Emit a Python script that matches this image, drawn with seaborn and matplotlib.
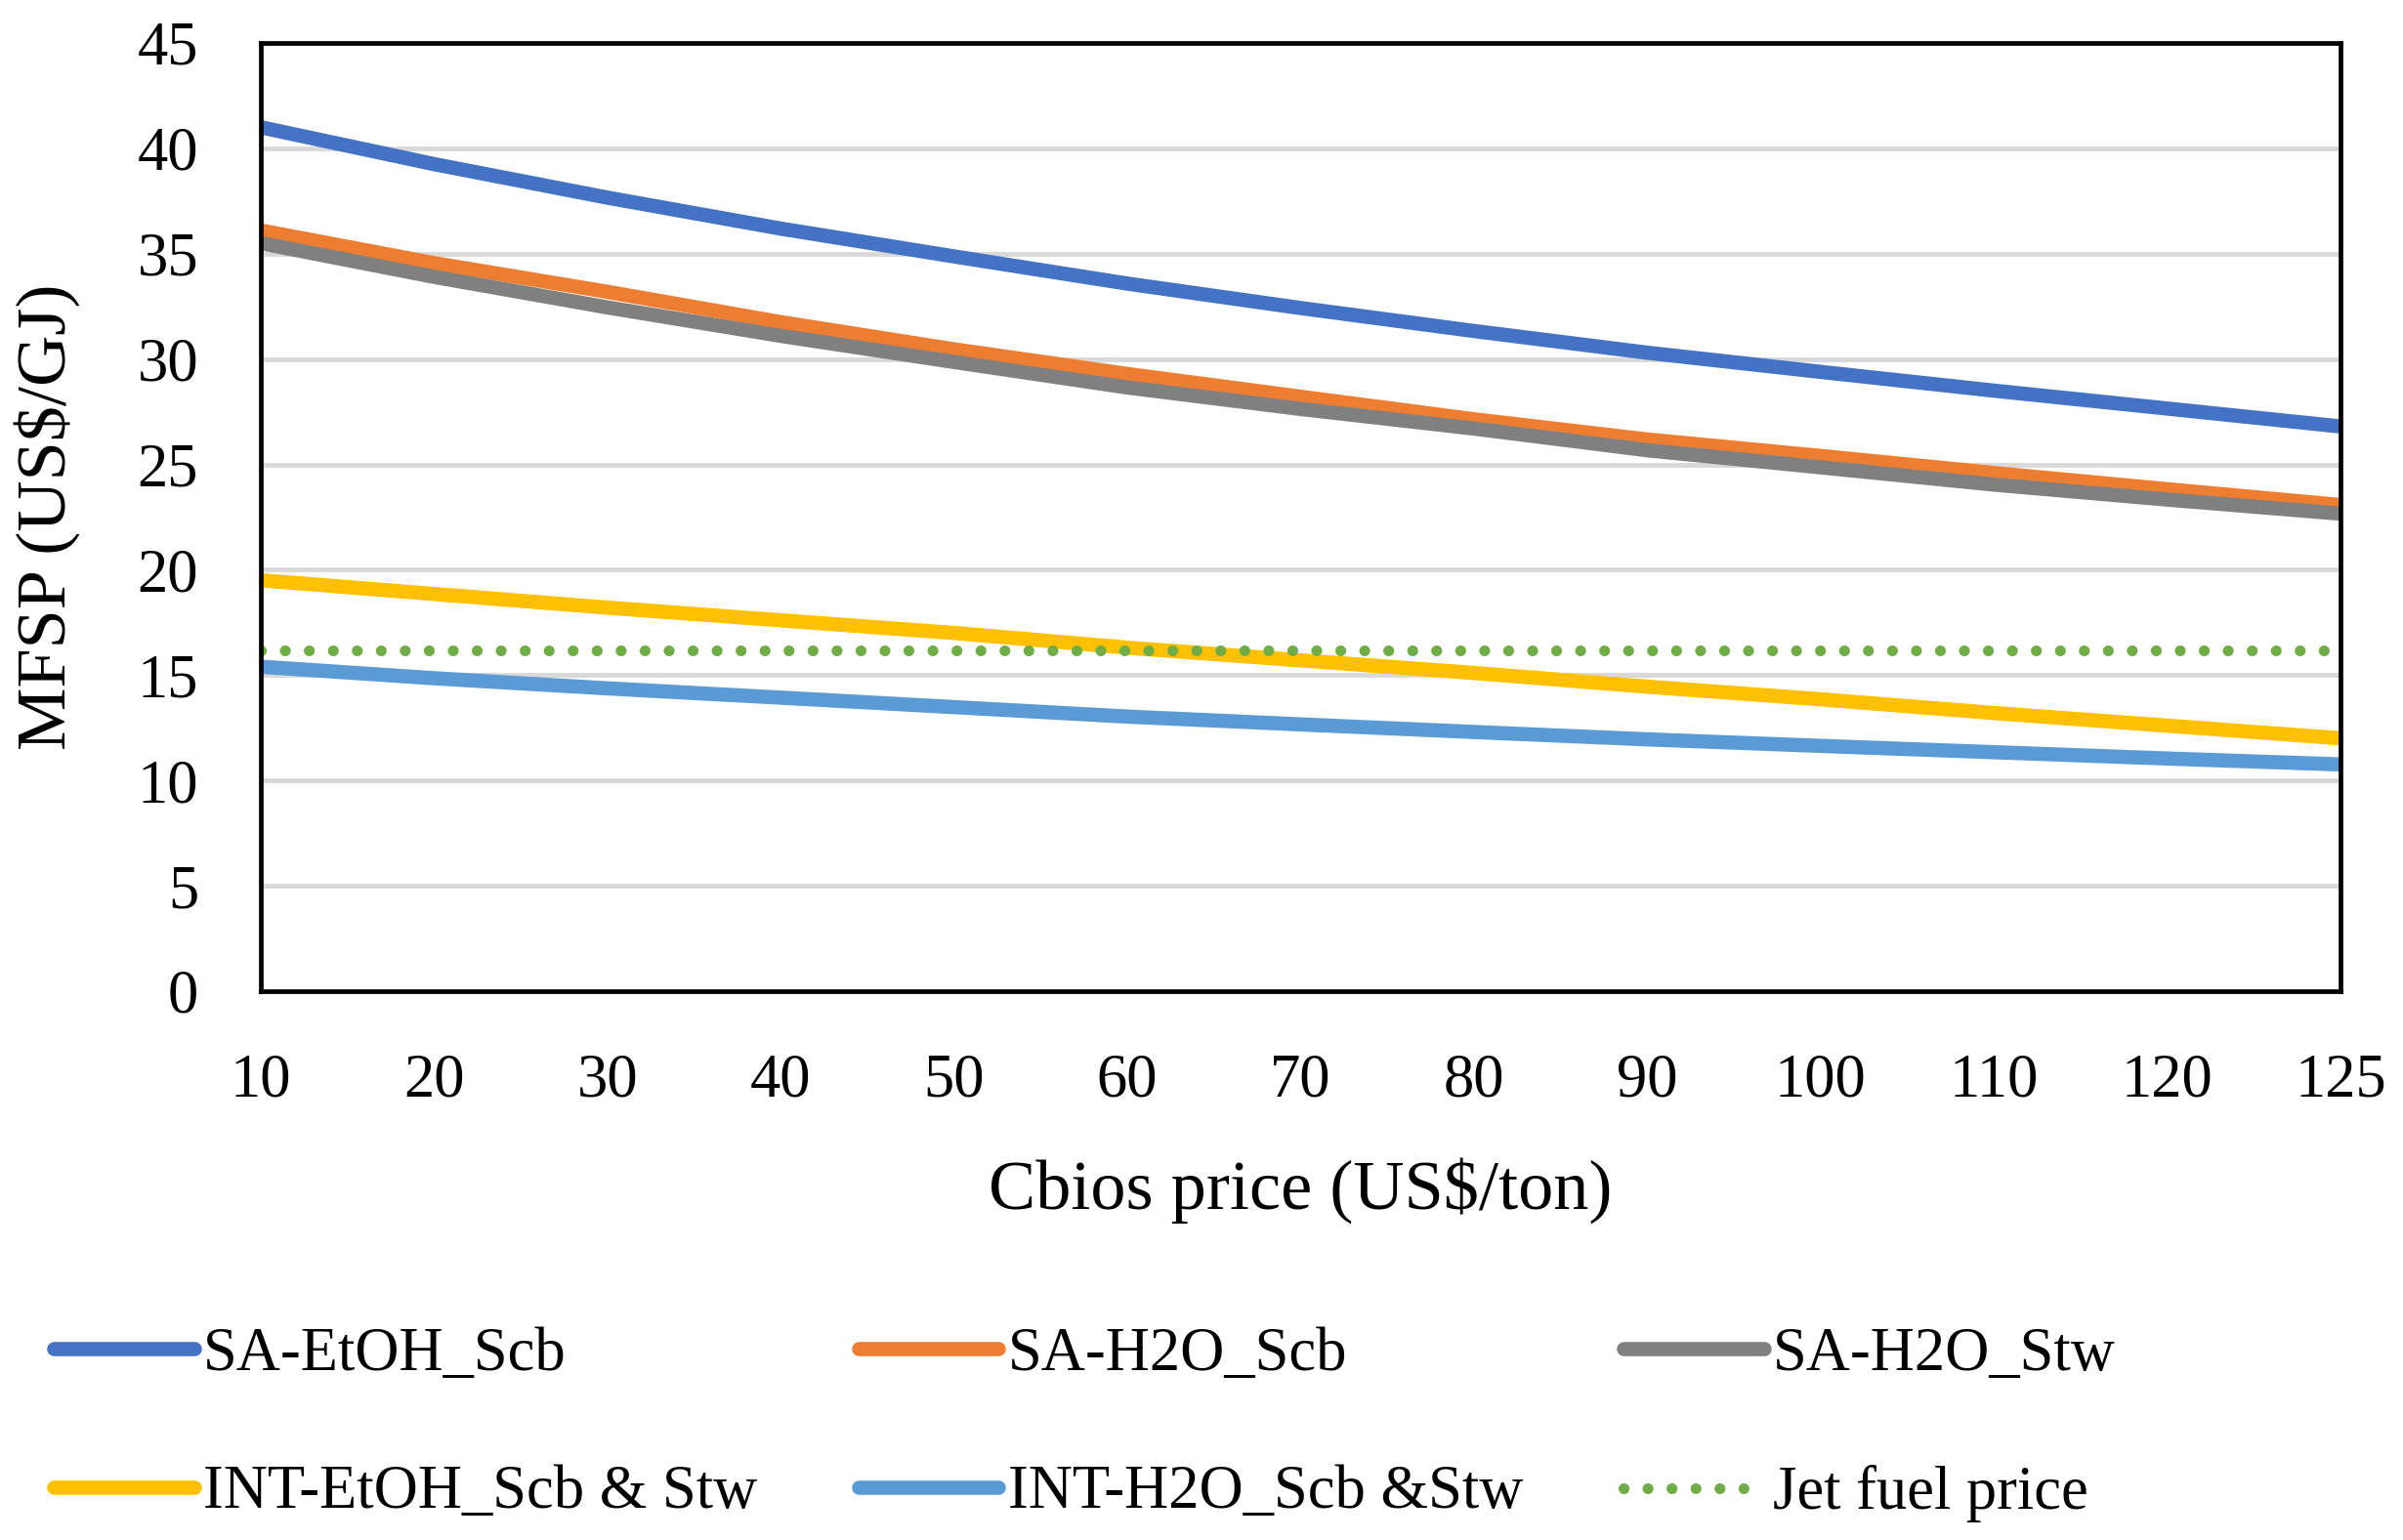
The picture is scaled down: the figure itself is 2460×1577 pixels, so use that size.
import pandas as pd
import matplotlib.pyplot as plt
import seaborn as sns

# Cbios price (US$/ton) is a category axis (Excel line chart), MFSP in US$/GJ
cbios = ['10', '20', '30', '40', '50', '60', '70', '80', '90', '100', '110', '120', '125']
sa_etoh_scb = [41.0, 39.25, 37.66, 36.19, 34.87, 33.58, 32.42, 31.33, 30.3, 29.39, 28.5, 27.65, 26.8]
sa_h2o_scb = [36.1, 34.55, 33.19, 31.75, 30.46, 29.29, 28.21, 27.14, 26.18, 25.4, 24.59, 23.82, 23.07]
sa_h2o_stw = [35.5, 33.9, 32.45, 31.1, 29.86, 28.65, 27.63, 26.7, 25.67, 24.86, 24.04, 23.33, 22.66]
int_etoh = [19.5, 18.85, 18.2, 17.6, 17.0, 16.3, 15.7, 15.1, 14.45, 13.85, 13.2, 12.6, 12.0]
int_h2o = [15.4, 14.85, 14.37, 13.93, 13.48, 13.03, 12.66, 12.3, 11.95, 11.64, 11.34, 11.04, 10.76]
jet_fuel = [16.15, 16.15, 16.15, 16.15, 16.15, 16.15, 16.15, 16.15, 16.15, 16.15, 16.15, 16.15, 16.15]

labels = ['SA-EtOH_Scb', 'SA-H2O_Scb', 'SA-H2O_Stw',
          'INT-EtOH_Scb & Stw', 'INT-H2O_Scb &Stw', 'Jet fuel price']
colors = ['#4472C4', '#ED7D31', '#808080', '#FFC000', '#5B9BD5', '#70AD47']
series = [sa_etoh_scb, sa_h2o_scb, sa_h2o_stw, int_etoh, int_h2o, jet_fuel]
y_ticks = [0, 5, 10, 15, 20, 25, 30, 35, 40, 45]

sns.set_style('white')
plt.rcParams['font.family'] = ['Liberation Serif', 'DejaVu Serif']
plt.rcParams['text.color'] = 'black'
plt.rcParams['axes.labelcolor'] = 'black'

fig = plt.figure(figsize=(24.6, 15.77), dpi=100)
ax = fig.add_axes([0.1085, 0.3564, 0.8655, 0.6157])

for lab, col, vals in zip(labels, colors, series):
    df = pd.DataFrame({'x': cbios, 'y': vals})
    if lab == 'Jet fuel price':
        sns.lineplot(data=df, x='x', y='y', ax=ax, color=col, lw=8,
                     label=lab, linestyle=(0, (0.01, 2.2)),
                     dash_capstyle='round', sort=False)
    else:
        sns.lineplot(data=df, x='x', y='y', ax=ax, color=col, lw=10.5,
                     label=lab, solid_capstyle='round',
                     solid_joinstyle='round', sort=False)

ax.set_xlim(0, len(cbios) - 1)
ax.set_ylim(0, 45)
ax.set_xticks(range(len(cbios)))
ax.set_xticklabels(cbios)
ax.set_yticks(y_ticks)
ax.grid(axis='y', color='#D9D9D9', lw=3.5)
ax.grid(axis='x', visible=False)
ax.set_axisbelow(True)
for s in ax.spines.values():
    s.set_color('black')
    s.set_linewidth(3.4)
ax.tick_params(axis='both', direction='out', length=16, width=3.4,
               labelsize=45, pad=30, colors='black')
ax.tick_params(axis='x', top=False)
ax.tick_params(axis='y', right=False)

ax.set_xlabel(r'Cbios price (US\$/ton)', fontsize=52)
ax.set_ylabel(r'MFSP (US\$/GJ)', fontsize=52)
ax.xaxis.set_label_coords(0.5, -0.175)
ax.yaxis.set_label_coords(-0.087, 0.5)

handles, labs = ax.get_legend_handles_labels()
order = [0, 3, 1, 4, 2, 5]
ax.legend([handles[i] for i in order], [labs[i] for i in order],
          loc='upper left', bbox_to_anchor=(0.0224, 0.138),
          bbox_transform=fig.transFigure, ncol=3, frameon=False,
          fontsize=45, handlelength=2.3, handletextpad=0.15,
          columnspacing=1.65, labelspacing=1.33, borderpad=0,
          borderaxespad=0)

fig.savefig('out.png', dpi=100)
